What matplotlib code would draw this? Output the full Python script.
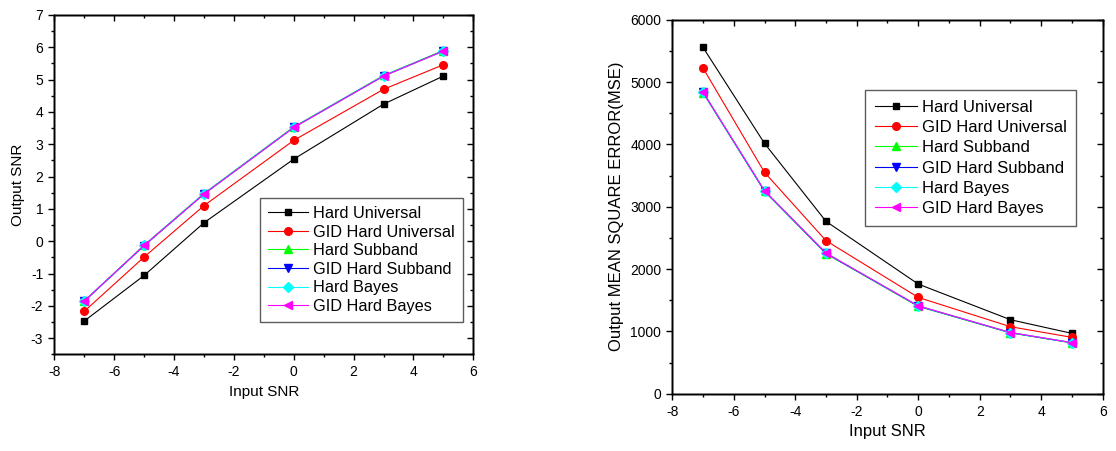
import matplotlib
matplotlib.use("Agg")
import matplotlib.pyplot as plt
from matplotlib.ticker import MultipleLocator, NullFormatter

plt.rcParams['font.family'] = ['Liberation Sans', 'DejaVu Sans']
plt.rcParams['axes.unicode_minus'] = False

input_snr = [-7, -5, -3, 0, 3, 5]
series_names = ["Hard Universal", "GID Hard Universal", "Hard Subband",
                "GID Hard Subband", "Hard Bayes", "GID Hard Bayes"]

# Output SNR
snr_hard_universal = [-2.47, -1.06, 0.57, 2.54, 4.24, 5.11]
snr_gid_hard_universal = [-2.17, -0.49, 1.10, 3.12, 4.70, 5.46]
snr_hard_subband = [-1.85, -0.12, 1.48, 3.54, 5.13, 5.90]
snr_gid_hard_subband = [-1.86, -0.14, 1.46, 3.52, 5.11, 5.89]
snr_hard_bayes = [-1.85, -0.13, 1.47, 3.53, 5.12, 5.88]
snr_gid_hard_bayes = [-1.85, -0.13, 1.46, 3.52, 5.11, 5.88]

# Output MSE
mse_hard_universal = [5556, 4016, 2765, 1759, 1187, 968]
mse_gid_hard_universal = [5225, 3551, 2455, 1545, 1075, 904]
mse_hard_subband = [4830, 3245, 2245, 1400, 975, 815]
mse_gid_hard_subband = [4834, 3251, 2251, 1406, 979, 818]
mse_hard_bayes = [4838, 3255, 2255, 1408, 981, 820]
mse_gid_hard_bayes = [4840, 3258, 2256, 1410, 982, 820]

colors = ["black", "red", "#00ff00", "blue", "cyan", "magenta"]
markers = ["s", "o", "^", "v", "D", "<"]
msizes = [5, 5.5, 5.5, 5.5, 5, 5.5]

snr_data = [snr_hard_universal, snr_gid_hard_universal, snr_hard_subband,
            snr_gid_hard_subband, snr_hard_bayes, snr_gid_hard_bayes]
mse_data = [mse_hard_universal, mse_gid_hard_universal, mse_hard_subband,
            mse_gid_hard_subband, mse_hard_bayes, mse_gid_hard_bayes]

fig = plt.figure(figsize=(11.16, 4.51), dpi=100)
ax1 = fig.add_axes([0.0487, 0.2144, 0.3754, 0.7524])
ax2 = fig.add_axes([0.6024, 0.127, 0.3857, 0.8293])

for i in range(6):
    ax1.plot(input_snr, snr_data[i], color=colors[i], marker=markers[i],
             markersize=msizes[i], linewidth=0.8, label=series_names[i])
    ax2.plot(input_snr, mse_data[i], color=colors[i], marker=markers[i],
             markersize=msizes[i], linewidth=0.8, label=series_names[i])

ax1.set_xlim(-8, 6)
ax1.set_ylim(-3.5, 7)
ax1.set_xlabel("Input SNR", fontsize=11)
ax1.set_ylabel("Output SNR", fontsize=11)

ax2.set_xlim(-8, 6)
ax2.set_ylim(0, 6000)
ax2.set_xlabel("Input SNR", fontsize=12)
ax2.set_ylabel("Output MEAN SQUARE ERROR(MSE)", fontsize=12)

locs = {ax1: (2, 1, 1, 0.5), ax2: (2, 1, 1000, 500)}

for ax in (ax1, ax2):
    xmaj, xmin, ymaj, ymin = locs[ax]
    ax.xaxis.set_major_locator(MultipleLocator(xmaj))
    ax.xaxis.set_minor_locator(MultipleLocator(xmin))
    ax.yaxis.set_major_locator(MultipleLocator(ymaj))
    ax.yaxis.set_minor_locator(MultipleLocator(ymin))
    for s in ax.spines.values():
        s.set_linewidth(1.0)
    ax.tick_params(which='both', labelsize=10, width=1.0, direction='out')
    ax.tick_params(which='major', length=4.5)
    ax.tick_params(which='minor', length=2.5)

    # inward ticks on top
    tx = ax.twiny()
    tx.set_xlim(ax.get_xlim())
    tx.xaxis.set_major_locator(MultipleLocator(xmaj))
    tx.xaxis.set_minor_locator(MultipleLocator(xmin))
    tx.xaxis.set_major_formatter(NullFormatter())
    tx.tick_params(which='both', direction='in', width=1.0)
    tx.tick_params(which='major', length=4.5)
    tx.tick_params(which='minor', length=2.5)
    # inward ticks on right
    ty = ax.twinx()
    ty.set_ylim(ax.get_ylim())
    ty.yaxis.set_major_locator(MultipleLocator(ymaj))
    ty.yaxis.set_minor_locator(MultipleLocator(ymin))
    ty.yaxis.set_major_formatter(NullFormatter())
    ty.tick_params(which='both', direction='in', width=1.0)
    ty.tick_params(which='major', length=4.5)
    ty.tick_params(which='minor', length=2.5)
    for t in (tx, ty):
        for s in t.spines.values():
            s.set_linewidth(1.0)

ax1.set_yticks([-3, -2, -1, 0, 1, 2, 3, 4, 5, 6, 7])

legend_setups = [
    (ax1, (0.490, 0.461), 11.7, 0.22, 0.5, 2.5),
    (ax2, (0.448, 0.812), 12.0, 0.32, 0.57, 2.55),
]
for ax, anchor, fs, ls, bp, hl in legend_setups:
    leg = ax.legend(loc='upper left', bbox_to_anchor=anchor, fontsize=fs,
                    frameon=True, fancybox=False, handlelength=hl,
                    handletextpad=0.3, labelspacing=ls, borderpad=bp,
                    borderaxespad=0)
    leg.get_frame().set_edgecolor('#333333')
    leg.get_frame().set_linewidth(1.0)
    leg.set_zorder(10)

fig.savefig("out.png", dpi=100)
